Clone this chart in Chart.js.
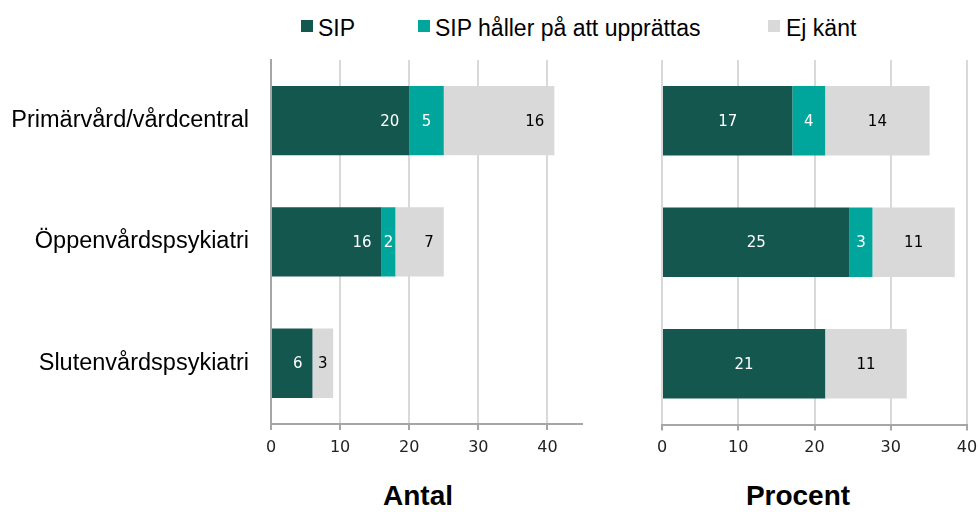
<!DOCTYPE html>
<html>
<head>
<meta charset="utf-8">
<script src="https://cdn.jsdelivr.net/npm/chart.js@4.4.1/dist/chart.umd.min.js"></script>
<style>
  body { margin: 0; background: #fff; }
  #wrap { position: relative; width: 978px; height: 512px; overflow: hidden; font-family: "Liberation Sans", Arial, sans-serif; }
  .box { position: absolute; top: 20px; width: 12px; height: 12px; }
  .lbl { position: absolute; top: 16.5px; font-size: 23px; line-height: 23px; color: #000; white-space: nowrap; }
  .ttl { position: absolute; top: 482px; font-size: 28px; line-height: 28px; font-weight: bold; color: #000; transform: translateX(-50%); white-space: nowrap; }
  #left { position: absolute; left: 0; top: 0; }
  #right { position: absolute; left: 600px; top: 0; }
</style>
</head>
<body>
<div id="wrap">
  <div class="box" style="left:301px;background:#14574f"></div><span class="lbl" style="left:318px">SIP</span>
  <div class="box" style="left:418px;background:#00a59c"></div><span class="lbl" style="left:435px">SIP håller på att upprättas</span>
  <div class="box" style="left:768px;background:#d9d9d9"></div><span class="lbl" style="left:786px">Ej känt</span>
  <canvas id="left" width="600" height="460"></canvas>
  <canvas id="right" width="378" height="460"></canvas>
  <div class="ttl" style="left:418px">Antal</div>
  <div class="ttl" style="left:798px">Procent</div>
</div>
<script>
var categories = ["Primärvård/vårdcentral", "Öppenvårdspsykiatri", "Slutenvårdspsykiatri"];
var seriesNames = ["SIP", "SIP håller på att upprättas", "Ej känt"];
var antalSip = [20, 16, 6];
var antalPagar = [5, 2, 0];
var antalEjKant = [16, 7, 3];
var procentSip = [17.1, 24.6, 21.4];
var procentPagar = [4.3, 3.0, 0];
var procentEjKant = [13.7, 10.8, 10.7];
var xTicks = [0, 10, 20, 30, 40];

var colors = ["#14574f", "#00a59c", "#d9d9d9"];
var labelColors = ["#ffffff", "#ffffff", "#000000"];

function makeDatasets(a, b, c) {
    return [a, b, c].map(function (vals, i) {
        return {
            label: seriesNames[i],
            data: vals,
            backgroundColor: colors[i],
            borderWidth: 0,
            barPercentage: 0.571,
            categoryPercentage: 1
        };
    });
}

// value labels inside the bars
function valueLabels(mode) {
    return {
        id: "valueLabels",
        afterDatasetsDraw: function (chart) {
            var ctx = chart.ctx;
            ctx.save();
            ctx.font = "15px 'DejaVu Sans', sans-serif";
            ctx.textBaseline = "middle";
            chart.data.datasets.forEach(function (ds, i) {
                chart.getDatasetMeta(i).data.forEach(function (bar, j) {
                    var v = ds.data[j];
                    if (!v) return;
                    var txt = String(Math.round(v));
                    var w = ctx.measureText(txt).width;
                    var seg = bar.x - bar.base;
                    ctx.fillStyle = labelColors[i];
                    if (mode === "end" && i !== 1 && seg >= w + 20) {
                        ctx.textAlign = "right";
                        ctx.fillText(txt, bar.x - 10, bar.y + 1);
                    } else {
                        ctx.textAlign = "center";
                        ctx.fillText(txt, (bar.x + bar.base) / 2, bar.y + 1);
                    }
                });
            });
            ctx.restore();
        }
    };
}

function xScale(max, padRight) {
    return {
        stacked: true,
        min: 0,
        max: max,
        afterBuildTicks: function (s) {
            s.ticks = xTicks.map(function (v) { return { value: v }; });
        },
        afterFit: function (s) {
            s.height = 35.5;
            s.paddingRight = padRight;
        },
        grid: { color: "#d9d9d9", lineWidth: 2, tickColor: "#a6a6a6", tickLength: 6 },
        border: { color: "#a6a6a6", width: 2 },
        ticks: { color: "#222", padding: 8, font: { family: "'DejaVu Sans', sans-serif", size: 16 } }
    };
}

new Chart(document.getElementById("left"), {
    type: "bar",
    data: { labels: categories, datasets: makeDatasets(antalSip, antalPagar, antalEjKant) },
    options: {
        responsive: false,
        animation: false,
        indexAxis: "y",
        layout: { padding: { top: 60, right: 18, left: 0, bottom: 0 } },
        plugins: { legend: { display: false }, tooltip: { enabled: false } },
        scales: {
            x: xScale(45, 0),
            y: {
                stacked: true,
                afterFit: function (s) { s.width = 271; },
                grid: { display: false, drawTicks: false },
                border: { color: "#a6a6a6", width: 2 },
                ticks: { color: "#000", padding: 22, font: { family: "'Liberation Sans', Arial, sans-serif", size: 23.5 } }
            }
        }
    },
    plugins: [valueLabels("end")]
});

new Chart(document.getElementById("right"), {
    type: "bar",
    data: { labels: categories, datasets: makeDatasets(procentSip, procentPagar, procentEjKant) },
    options: {
        responsive: false,
        animation: false,
        indexAxis: "y",
        layout: { padding: { top: 60, right: 0, left: 62, bottom: 0 } },
        plugins: { legend: { display: false }, tooltip: { enabled: false } },
        scales: {
            x: xScale(40, 11),
            y: { stacked: true, display: false }
        }
    },
    plugins: [valueLabels("center")]
});
</script>
</body>
</html>
